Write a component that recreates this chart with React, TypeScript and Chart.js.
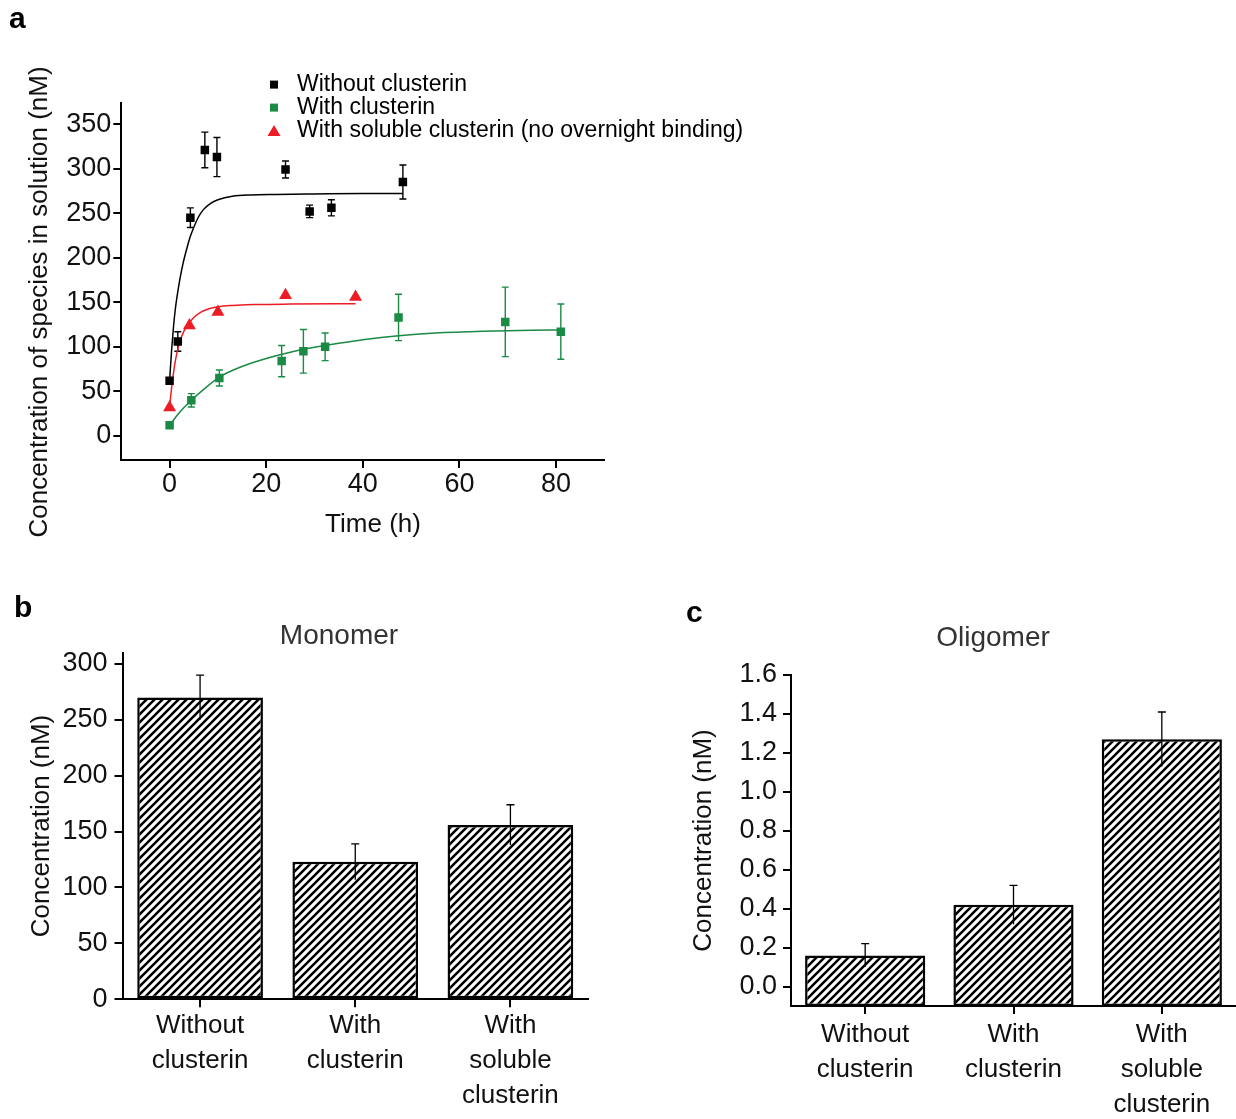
import React, { useEffect, useRef } from 'react';
import { Chart, registerables } from 'chart.js';

Chart.register(...registerables);

const FONT = "'Liberation Sans', Arial, Helvetica, sans-serif";
Chart.defaults.font.family = FONT;

// ---------- Panel a : time course ----------
const timeTicks = [0, 20, 40, 60, 80];
const speciesTicks = [0, 50, 100, 150, 200, 250, 300, 350];

const blackTimes = [0, 1.7, 4.3, 7.3, 9.8, 24.0, 29.0, 33.5, 48.3];
const blackValues = [62, 106, 245, 321, 313, 299, 252, 256, 285];
const blackErrors = [0, 11, 11, 20, 22, 9.5, 7, 9, 19];

const greenTimes = [0, 4.5, 10.3, 23.2, 27.7, 32.2, 47.4, 69.5, 81.0];
const greenValues = [12, 40, 65, 84, 95, 100, 133, 128, 117];
const greenErrors = [0, 7.5, 9, 17.5, 24.5, 15.5, 26, 39, 31];

const redTimes = [0, 4.1, 10.0, 24.0, 38.5];
const redValues = [32, 124, 139, 158, 156];

const blackFitTimes = [0, 0.4, 0.8, 1.2, 1.7, 2.2, 2.8, 3.6, 4.3, 5.0, 6.0, 7.0, 8.5, 10, 13, 17, 22, 30, 40, 48.3];
const blackFitValues = [62, 95, 122, 143, 162, 178, 194, 211, 224, 234, 246, 254, 261, 265, 269, 270.5, 271, 271.5, 272, 272];

const redFitTimes = [0, 0.5, 1, 1.5, 2, 3, 4.1, 5, 6.5, 8, 10, 13, 18, 25, 38.5];
const redFitValues = [33, 58, 78, 93, 104, 118, 127, 133, 139, 142.5, 145, 146.5, 147.5, 148, 148.5];

const greenFitTimes = [0, 2, 4.5, 7, 10.3, 15, 20, 25, 30, 35, 40, 47.4, 55, 65, 75, 81];
const greenFitValues = [12, 26, 40, 52, 66, 78, 87, 94, 99.5, 104, 108, 112.5, 115.5, 117.5, 118.5, 119];

const seriesLabels = ['Without clusterin', 'With clusterin', 'With soluble clusterin (no overnight binding)'];

// ---------- Panels b & c : bars ----------
const barCategories = [['Without', 'clusterin'], ['With', 'clusterin'], ['With', 'soluble', 'clusterin']];

const monomerValues = [270, 123, 156];
const monomerErrors = [20, 16, 18];
const monomerTicks = [0, 50, 100, 150, 200, 250, 300];
const monomerTickLabels = ['0', '50', '100', '150', '200', '250', '300'];

const oligomerValues = [0.16, 0.42, 1.27];
const oligomerErrors = [0.06, 0.1, 0.14];
const oligomerTicks = [0, 0.2, 0.4, 0.6, 0.8, 1.0, 1.2, 1.4, 1.6];
const oligomerTickLabels = ['0.0', '0.2', '0.4', '0.6', '0.8', '1.0', '1.2', '1.4', '1.6'];

const BLACK = '#000000';
const GREEN = '#1a8a45';
const RED = '#ec1c24';
const TEXT = '#111111';

const toPoints = (xs: number[], ys: number[]) => xs.map((x, i) => ({ x, y: ys[i] }));

function makeHatch(): any {
  const c = document.createElement('canvas');
  c.width = 8;
  c.height = 8;
  const g = c.getContext('2d') as CanvasRenderingContext2D;
  g.fillStyle = '#ffffff';
  g.fillRect(0, 0, 8, 8);
  g.strokeStyle = '#000000';
  g.lineWidth = 2.6;
  g.beginPath();
  g.moveTo(-2, 10); g.lineTo(10, -2);
  g.moveTo(-6, 6); g.lineTo(6, -6);
  g.moveTo(2, 14); g.lineTo(14, 2);
  g.stroke();
  return g.createPattern(c, 'repeat');
}

function drawErrorBars(chart: any) {
  const ctx = chart.ctx;
  chart.data.datasets.forEach((ds: any, i: number) => {
    const errs = ds.errors;
    if (!errs) return;
    const meta = chart.getDatasetMeta(i);
    const ys = chart.scales[meta.yAxisID];
    ctx.save();
    ctx.strokeStyle = ds.errorColor;
    ctx.lineWidth = ds.errorLineWidth;
    meta.data.forEach((el: any, j: number) => {
      const e = errs[j];
      if (!e) return;
      const raw = ds.data[j];
      const v = typeof raw === 'number' ? raw : raw.y;
      const x = el.x;
      const y1 = ys.getPixelForValue(v + e);
      const y2 = ys.getPixelForValue(v - e);
      const hw = ds.errorCapHalf;
      ctx.beginPath();
      ctx.moveTo(x, y1); ctx.lineTo(x, y2);
      ctx.moveTo(x - hw, y1); ctx.lineTo(x + hw, y1);
      if (ds.errorBottomCap) { ctx.moveTo(x - hw, y2); ctx.lineTo(x + hw, y2); }
      ctx.stroke();
    });
    ctx.restore();
  });
}

function makeErrorBarPlugin(under: boolean) {
  return {
    id: 'errorBars',
    beforeDatasetsDraw(chart: any) { if (under) drawErrorBars(chart); },
    afterDatasetsDraw(chart: any) { if (!under) drawErrorBars(chart); },
  };
}

type FreeText = { text: string; x: number; y: number; size: number; color: string; rotate?: number };

function makeTextPlugin(items: FreeText[]) {
  return {
    id: 'freeText',
    afterDraw(chart: any) {
      const ctx = chart.ctx;
      items.forEach((t) => {
        ctx.save();
        ctx.translate(t.x, t.y);
        if (t.rotate) ctx.rotate(t.rotate);
        ctx.font = `${t.size}px ${FONT}`;
        ctx.fillStyle = t.color;
        ctx.textAlign = 'center';
        ctx.textBaseline = 'middle';
        ctx.fillText(t.text, 0, 0);
        ctx.restore();
      });
    },
  };
}

function makeMarkerLegend(cfg: { markerX: number; textX: number; y: number; rowGap: number; size: number }) {
  return {
    id: 'markerLegend',
    afterDraw(chart: any) {
      const ctx = chart.ctx;
      const items = chart.data.datasets.filter((d: any) => d.inLegend);
      items.forEach((ds: any, k: number) => {
        const cy = cfg.y + k * cfg.rowGap;
        const cx = cfg.markerX;
        ctx.save();
        ctx.fillStyle = ds.backgroundColor;
        if (ds.pointStyle === 'triangle') {
          const w = 13, h = 11;
          ctx.beginPath();
          ctx.moveTo(cx, cy - h / 2);
          ctx.lineTo(cx + w / 2, cy + h / 2);
          ctx.lineTo(cx - w / 2, cy + h / 2);
          ctx.closePath();
          ctx.fill();
        } else {
          const s = 8;
          ctx.fillRect(cx - s / 2, cy - s / 2, s, s);
        }
        ctx.fillStyle = '#000';
        ctx.font = `${cfg.size}px ${FONT}`;
        ctx.textAlign = 'left';
        ctx.textBaseline = 'middle';
        ctx.fillText(ds.label, cfg.textX, cy);
        ctx.restore();
      });
    },
  };
}

const axisGrid = { display: true, drawOnChartArea: false, drawTicks: true, tickLength: 8, color: BLACK, lineWidth: 2 };
const axisBorder = { display: true, color: BLACK, width: 2 };

export default function App() {
  const aRef = useRef<HTMLCanvasElement>(null);
  const bRef = useRef<HTMLCanvasElement>(null);
  const cRef = useRef<HTMLCanvasElement>(null);

  useEffect(() => {
    const charts: Chart[] = [];
    const hatch = makeHatch();

    // ---------- Panel a ----------
    charts.push(new Chart(aRef.current as HTMLCanvasElement, {
      type: 'scatter',
      data: {
        datasets: [
          {
            label: seriesLabels[0], data: toPoints(blackTimes, blackValues), pointStyle: 'rect', pointRadius: 6,
            backgroundColor: BLACK, borderColor: BLACK, pointBorderWidth: 0, order: 0, inLegend: true,
            errors: blackErrors, errorColor: BLACK, errorLineWidth: 1.4, errorCapHalf: 3.5, errorBottomCap: true,
          } as any,
          {
            label: seriesLabels[1], data: toPoints(greenTimes, greenValues), pointStyle: 'rect', pointRadius: 6,
            backgroundColor: GREEN, borderColor: GREEN, pointBorderWidth: 0, order: 0, inLegend: true,
            errors: greenErrors, errorColor: GREEN, errorLineWidth: 1.4, errorCapHalf: 3.5, errorBottomCap: true,
          } as any,
          {
            label: seriesLabels[2], data: toPoints(redTimes, redValues), pointStyle: 'triangle', pointRadius: 7.5,
            backgroundColor: RED, borderColor: RED, pointBorderWidth: 0, order: 0, inLegend: true,
          } as any,
          {
            label: 'fit-black', data: toPoints(blackFitTimes, blackFitValues), showLine: true, pointRadius: 0,
            borderColor: BLACK, borderWidth: 1.5, cubicInterpolationMode: 'monotone', order: 1,
          } as any,
          {
            label: 'fit-green', data: toPoints(greenFitTimes, greenFitValues), showLine: true, pointRadius: 0,
            borderColor: GREEN, borderWidth: 1.5, cubicInterpolationMode: 'monotone', order: 1,
          } as any,
          {
            label: 'fit-red', data: toPoints(redFitTimes, redFitValues), showLine: true, pointRadius: 0,
            borderColor: RED, borderWidth: 1.5, cubicInterpolationMode: 'monotone', order: 1,
          } as any,
        ],
      },
      options: {
        responsive: false,
        animation: false,
        devicePixelRatio: 1,
        events: [],
        layout: { padding: { left: 0, top: 102.7, right: 155.7, bottom: 0 } },
        plugins: { legend: { display: false }, tooltip: { enabled: false }, title: { display: false } },
        scales: {
          x: {
            type: 'linear', min: -10, max: 90,
            afterBuildTicks: (s: any) => { s.ticks = timeTicks.map((v) => ({ value: v })); },
            afterFit: (s: any) => { s.height = 100; },
            grid: axisGrid, border: axisBorder,
            ticks: { color: TEXT, font: { size: 27 }, padding: 0, maxRotation: 0 },
          },
          y: {
            type: 'linear', min: -27, max: 374,
            afterBuildTicks: (s: any) => { s.ticks = speciesTicks.map((v) => ({ value: v })); },
            afterFit: (s: any) => { s.width = 121.3; },
            grid: axisGrid, border: axisBorder,
            ticks: { color: TEXT, font: { size: 27 }, padding: 2 },
          },
        },
      } as any,
      plugins: [
        makeErrorBarPlugin(true),
        makeMarkerLegend({ markerX: 274, textX: 297, y: 84.6, rowGap: 23, size: 23 }),
        makeTextPlugin([
          { text: 'Concentration of species in solution (nM)', x: 40, y: 302, size: 26, color: TEXT, rotate: -Math.PI / 2 },
          { text: 'Time (h)', x: 373, y: 525, size: 26, color: TEXT },
        ]),
      ],
    }));

    // ---------- Panel b ----------
    charts.push(new Chart(bRef.current as HTMLCanvasElement, {
      type: 'bar',
      data: {
        labels: barCategories,
        datasets: [{
          label: 'Monomer', data: monomerValues, backgroundColor: hatch, borderColor: BLACK, borderWidth: 2.5,
          borderSkipped: false, barPercentage: 0.81, categoryPercentage: 1,
          errors: monomerErrors, errorColor: BLACK, errorLineWidth: 1.3, errorCapHalf: 4, errorBottomCap: false,
        } as any],
      },
      options: {
        responsive: false,
        animation: false,
        devicePixelRatio: 1,
        events: [],
        layout: { padding: { left: 0, top: 62.7, right: 12, bottom: 0 } },
        plugins: { legend: { display: false }, tooltip: { enabled: false }, title: { display: false } },
        scales: {
          x: {
            afterFit: (s: any) => { s.height = 119.7; },
            grid: { ...axisGrid, offset: false }, border: axisBorder,
            ticks: { color: TEXT, font: { size: 26, lineHeight: 1.35 }, padding: 1, maxRotation: 0, autoSkip: false },
          },
          y: {
            min: 0, max: 310,
            afterBuildTicks: (s: any) => { s.ticks = monomerTicks.map((v) => ({ value: v })); },
            afterFit: (s: any) => { s.width = 122.5; },
            grid: axisGrid, border: axisBorder,
            ticks: { color: TEXT, font: { size: 27 }, padding: 7, callback: (_v: any, i: number) => monomerTickLabels[i] },
            title: { display: true, text: 'Concentration (nM)', color: TEXT, font: { size: 26 }, padding: { top: 26.4, bottom: 0 } },
          },
        },
      } as any,
      plugins: [
        makeErrorBarPlugin(false),
        makeTextPlugin([{ text: 'Monomer', x: 339, y: 46, size: 28, color: '#333333' }]),
      ],
    }));

    // ---------- Panel c ----------
    charts.push(new Chart(cRef.current as HTMLCanvasElement, {
      type: 'bar',
      data: {
        labels: barCategories,
        datasets: [{
          label: 'Oligomer', data: oligomerValues, backgroundColor: hatch, borderColor: BLACK, borderWidth: 2.5,
          borderSkipped: false, barPercentage: 0.81, categoryPercentage: 1, base: -0.1,
          errors: oligomerErrors, errorColor: BLACK, errorLineWidth: 1.3, errorCapHalf: 4, errorBottomCap: false,
        } as any],
      },
      options: {
        responsive: false,
        animation: false,
        devicePixelRatio: 1,
        events: [],
        layout: { padding: { left: 0, top: 85, right: 0, bottom: 0 } },
        plugins: { legend: { display: false }, tooltip: { enabled: false }, title: { display: false } },
        scales: {
          x: {
            afterFit: (s: any) => { s.height = 113; },
            grid: { ...axisGrid, offset: false }, border: axisBorder,
            ticks: { color: TEXT, font: { size: 26, lineHeight: 1.35 }, padding: 3.5, maxRotation: 0, autoSkip: false },
          },
          y: {
            min: -0.1, max: 1.6,
            afterBuildTicks: (s: any) => { s.ticks = oligomerTicks.map((v) => ({ value: v })); },
            afterFit: (s: any) => { s.width = 111; },
            grid: axisGrid, border: axisBorder,
            ticks: { color: TEXT, font: { size: 27 }, padding: 6, callback: (_v: any, i: number) => oligomerTickLabels[i] },
            title: { display: true, text: 'Concentration (nM)', color: TEXT, font: { size: 26 }, padding: { top: 8.4, bottom: 0 } },
          },
        },
      } as any,
      plugins: [
        makeErrorBarPlugin(false),
        makeTextPlugin([{ text: 'Oligomer', x: 313, y: 48, size: 28, color: '#333333' }]),
      ],
    }));

    return () => { charts.forEach((c) => c.destroy()); };
  }, []);

  const letter = (t: string, left: number, top: number) => (
    <div style={{ position: 'absolute', left, top, font: `bold 30px ${FONT}`, lineHeight: '30px', color: '#000' }}>{t}</div>
  );

  return (
    <div style={{ position: 'absolute', left: 0, top: 0, width: 1236, height: 1119, overflow: 'hidden', background: '#fff' }}>
      <canvas ref={aRef} width={760} height={560} style={{ position: 'absolute', left: 0, top: 0 }} />
      <canvas ref={bRef} width={600} height={529} style={{ position: 'absolute', left: 0, top: 590 }} />
      <canvas ref={cRef} width={556} height={529} style={{ position: 'absolute', left: 680, top: 590 }} />
      {letter('a', 9, 3)}
      {letter('b', 14, 592)}
      {letter('c', 686, 597)}
    </div>
  );
}
